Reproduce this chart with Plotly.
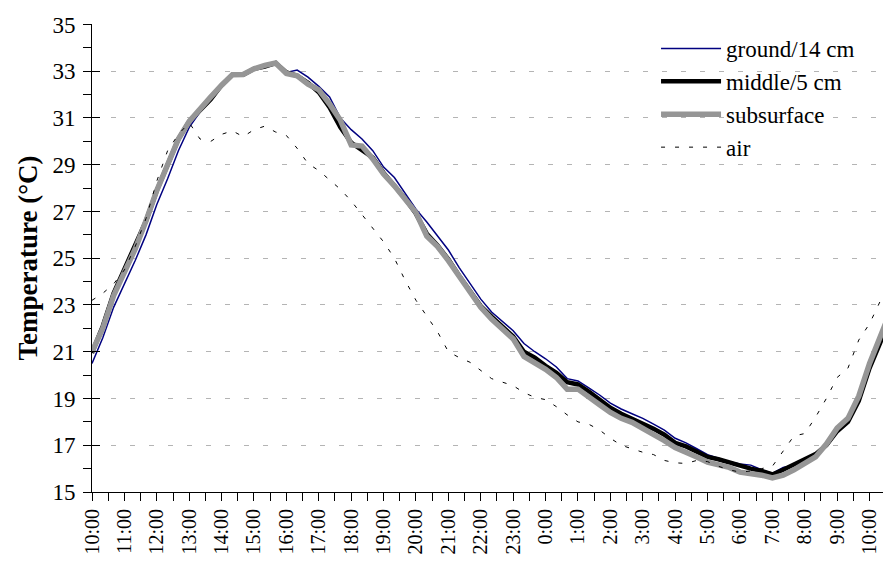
import plotly.graph_objects as go

# sample times (20-min logging, 10:00 day 1 -> 10:40 day 2)
times = ["10:00","10:20","10:40","11:00","11:20","11:40","12:00","12:20","12:40",
         "13:00","13:20","13:40","14:00","14:20","14:40","15:00","15:20","15:40",
         "16:00","16:20","16:40","17:00","17:20","17:40","18:00","18:20","18:40",
         "19:00","19:20","19:40","20:00","20:20","20:40","21:00","21:20","21:40",
         "22:00","22:20","22:40","23:00","23:20","23:40","0:00","0:20","0:40",
         "1:00","1:20","1:40","2:00","2:20","2:40","3:00","3:20","3:40",
         "4:00","4:20","4:40","5:00","5:20","5:40","6:00","6:20","6:40",
         "7:00","7:20","7:40","8:00","8:20","8:40","9:00","9:20","9:40",
         "10:00","10:20","10:40"]

ground = [20.5,21.6,22.9,23.9,24.9,26.0,27.3,28.4,29.6,30.6,31.25,31.8,32.35,32.85,32.9,
          33.15,33.3,33.4,32.95,33.05,32.75,32.35,31.9,31.0,30.5,30.1,29.6,28.9,28.45,27.8,
          27.1,26.55,25.95,25.35,24.6,23.9,23.25,22.7,22.3,21.9,21.35,21.0,20.7,20.35,19.85,
          19.75,19.45,19.15,18.8,18.55,18.35,18.15,17.9,17.65,17.3,17.1,16.85,16.6,16.45,16.3,
          16.2,16.15,15.95,15.8,16.05,16.15,16.4,16.6,16.95,17.55,17.95,18.85,20.2,21.4,22.6]

middle = [20.95,22.1,23.5,24.5,25.55,26.6,27.9,29.0,30.1,30.85,31.35,31.8,32.4,32.85,32.85,
          33.1,33.2,33.35,32.95,32.8,32.5,32.1,31.45,30.6,29.95,29.6,29.3,28.65,28.1,27.55,
          26.9,26.05,25.55,24.95,24.25,23.6,22.95,22.5,22.05,21.65,21.0,20.75,20.4,20.1,19.7,
          19.6,19.3,18.95,18.6,18.35,18.15,17.95,17.7,17.45,17.1,16.95,16.75,16.5,16.4,16.25,
          16.1,16.0,15.9,15.75,15.95,16.15,16.4,16.62,17.0,17.6,18.0,18.9,20.3,21.4,22.7]

subsurface = [21.0,22.0,23.4,24.4,25.4,26.6,27.9,29.0,30.1,30.85,31.4,31.9,32.4,32.85,32.86,
              33.1,33.25,33.35,32.9,32.8,32.45,32.2,31.6,30.9,29.85,29.8,29.25,28.6,28.1,27.55,
              26.95,25.95,25.5,24.9,24.2,23.55,22.9,22.4,21.95,21.55,20.8,20.55,20.25,19.9,19.4,
              19.4,19.1,18.73,18.4,18.15,17.98,17.73,17.48,17.2,16.9,16.72,16.5,16.28,16.18,16.05,
              15.85,15.8,15.72,15.6,15.72,15.95,16.2,16.5,17.05,17.73,18.15,19.1,20.5,21.6,22.8]

air = [23.2,23.5,23.9,24.5,25.5,26.7,28.3,29.6,30.3,30.8,30.1,30.0,30.3,30.45,30.2,
       30.5,30.65,30.4,30.25,29.7,29.05,28.75,28.35,27.95,27.45,26.85,26.25,25.7,25.0,24.05,
       23.2,22.5,21.85,21.0,20.75,20.55,20.2,19.85,19.7,19.55,19.25,19.05,18.95,18.65,18.3,
       18.0,17.9,17.65,17.3,17.0,16.85,16.7,16.6,16.35,16.25,16.22,16.35,16.3,16.1,15.95,
       15.85,15.9,16.0,16.1,16.75,17.4,17.5,18.2,19.0,19.9,20.3,21.5,22.2,23.2,24.15]

hour_labels = ["10:00","11:00","12:00","13:00","14:00","15:00","16:00","17:00","18:00",
               "19:00","20:00","21:00","22:00","23:00","0:00","1:00","2:00","3:00",
               "4:00","5:00","6:00","7:00","8:00","9:00","10:00"]
y_major = [15,17,19,21,23,25,27,29,31,33,35]


def elapsed_hours(labels):
    out, day, prev = [], 0, None
    for t in labels:
        h, m = (int(v) for v in t.split(":"))
        if prev is not None and h < prev:
            day += 24
        prev = h
        out.append(day + h - 10 + m / 60.0)
    return out


x = elapsed_hours(times)
FONT = "Liberation Serif"

fig = go.Figure()
fig.add_trace(go.Scatter(x=x, y=ground, mode="lines", name="ground/14 cm",
                         line=dict(color="#000080", width=1.5)))
fig.add_trace(go.Scatter(x=x, y=middle, mode="lines", name="middle/5 cm",
                         line=dict(color="#000000", width=4.5)))
fig.add_trace(go.Scatter(x=x, y=subsurface, mode="lines", name="subsurface",
                         line=dict(color="#969696", width=5.5)))
fig.add_trace(go.Scatter(x=x, y=air, mode="lines", name="air", yaxis="y2",
                         line=dict(color="#000000", width=1, dash="4px,10px")))

# tick positions every half hour, labels on the hour
tickvals, ticktext = [], []
for i, lab in enumerate(hour_labels):
    tickvals.append(i)
    ticktext.append(lab)
    if i < len(hour_labels) - 1:
        tickvals.append(i + 0.5)
        ticktext.append("")

# page body has an 8px margin: figure is 883x555 so the plot lands where the reference has it
fig.update_layout(
    width=883, height=555,
    margin=dict(l=84, r=2, t=16, b=71),
    paper_bgcolor="white", plot_bgcolor="white",
    font=dict(family=FONT, color="black", size=20),
    showlegend=True,
    legend=dict(x=0.7077, y=0.9936, xanchor="left", yanchor="top",
                font=dict(family=FONT, size=23, color="black"),
                bgcolor="rgba(0,0,0,0)", tracegroupgap=0, itemwidth=60,
                traceorder="normal"),
    xaxis=dict(range=[0, 24.6], tickmode="array", tickvals=tickvals, ticktext=ticktext,
               tickangle=-90, ticks="outside", ticklen=8, tickcolor="black",
               showline=True, linecolor="black", linewidth=1, showgrid=False,
               zeroline=False, tickfont=dict(family=FONT, size=20), automargin=False),
    yaxis=dict(range=[15, 35.02], tickmode="array", tickvals=y_major,
               ticks="outside", ticklen=8, tickcolor="black",
               minor=dict(tickmode="array", tickvals=[16,18,20,22,24,26,28,30,32,34],
                          ticks="outside", ticklen=8, tickcolor="black", showgrid=False),
               showline=True, linecolor="black", linewidth=1,
               showgrid=True, gridcolor="#b4b4b4", gridwidth=1, griddash="5px,14px",
               zeroline=False, tickfont=dict(family=FONT, size=23), ticklabelstandoff=3,
               title=dict(text="<b>Temperature (°C)</b>", font=dict(family=FONT, size=27),
                          standoff=6),
               automargin=False),
    yaxis2=dict(range=[15, 35.02], overlaying="y", side="left", anchor="x",
                tickmode="array", tickvals=y_major, ticks="inside", ticklen=8,
                tickcolor="black", showticklabels=False, showgrid=False,
                showline=False, zeroline=False),
)

fig.write_html("out.html")
